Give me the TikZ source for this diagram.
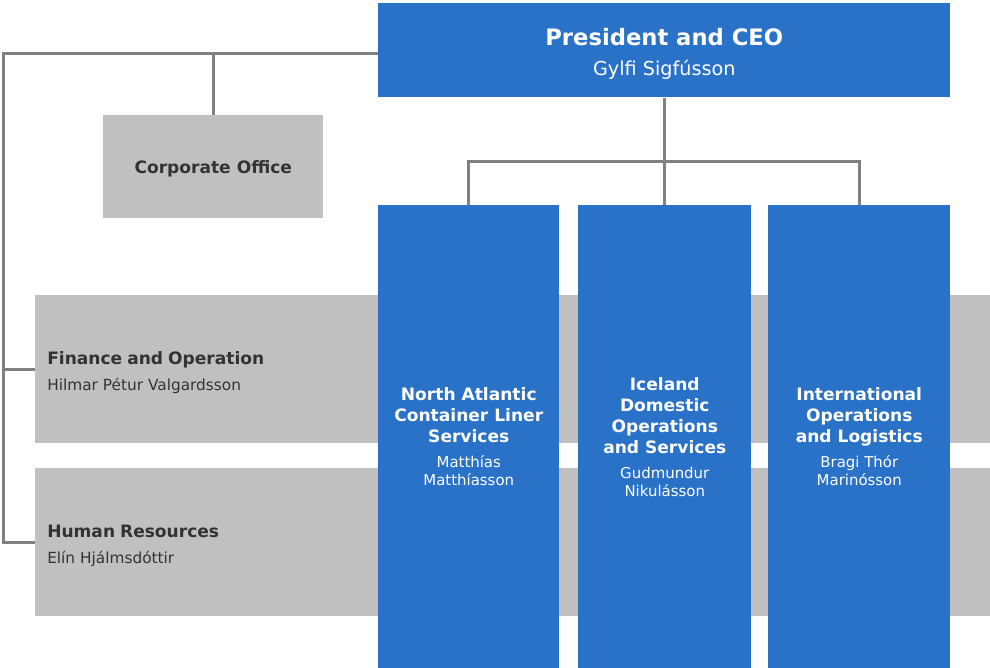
\documentclass[tikz,border=0pt]{standalone}
\usepackage{fontspec}
\setmainfont{DejaVu Sans}

\definecolor{boxblue}{RGB}{42,114,200}
\definecolor{boxgray}{RGB}{192,192,192}
\definecolor{linegray}{RGB}{128,128,128}
\definecolor{textgray}{RGB}{51,51,51}

\newcommand{\ceofont}{\fontsize{17}{20}\selectfont\bfseries}
\newcommand{\ceonamefont}{\fontsize{14.4}{17}\selectfont}
\newcommand{\headfont}{\fontsize{12.8}{15.75}\selectfont\bfseries}
\newcommand{\namefont}{\fontsize{11.2}{13.5}\selectfont}

\begin{document}
\begin{tikzpicture}[x=0.75pt, y=-0.75pt,
    bluebox/.style={fill=boxblue, text=white, inner sep=0pt, align=center, anchor=north west, font=\namefont},
    graybox/.style={fill=boxgray, text=textgray, inner sep=0pt, anchor=north west, font=\namefont},
    link/.style={draw=linegray, line width=2.25pt}]

    % Page frame
    \useasboundingbox[fill=white] (0,0) rectangle (990,668);

    % Draw gray bands and corporate office
    \node[graybox, minimum width=955*0.75pt, minimum height=148*0.75pt, text width=931*0.75pt, align=left, inner xsep=9pt] (fin) at (35,295)
        {{\headfont\rule{0pt}{14.2pt}Finance and Operation}\\[6pt]{\fontsize{11.5}{13.5}\selectfont Hilmar Pétur Valgardsson}};
    \node[graybox, minimum width=955*0.75pt, minimum height=148*0.75pt, text width=931*0.75pt, align=left, inner xsep=9pt] (hr) at (35,468)
        {{\headfont\rule{0pt}{14.2pt}Human Resources}\\[6pt]{\fontsize{11.5}{13.5}\selectfont Elín Hjálmsdóttir}};
    \node[graybox, minimum width=220*0.75pt, minimum height=103*0.75pt, font=\headfont] (office) at (103,115) {\rule{0pt}{12.7pt}Corporate Office};

    % Draw president box
    \node[bluebox, minimum width=572*0.75pt, minimum height=94*0.75pt] (ceo) at (378,3)
        {{\ceofont\rule{0pt}{19pt}President and CEO}\\[9pt]{\ceonamefont Gylfi Sigfússon}};

    % Draw business unit columns
    \node[bluebox, minimum width=181*0.75pt, minimum height=463*0.75pt] (col1) at (378,205)
        {{\headfont North Atlantic}\\[2.25pt]{\headfont Container Liner}\\[2.25pt]{\headfont Services}\\[5.25pt]Matthías\\Matthíasson};
    \node[bluebox, minimum width=173*0.75pt, minimum height=463*0.75pt] (col2) at (578,205)
        {{\headfont Iceland}\\[2.25pt]{\headfont Domestic}\\[2.25pt]{\headfont Operations}\\[2.25pt]{\headfont and Services}\\[5.25pt]Gudmundur\\Nikulásson};
    \node[bluebox, minimum width=182*0.75pt, minimum height=463*0.75pt] (col3) at (768,205)
        {{\headfont International}\\[2.25pt]{\headfont Operations}\\[2.25pt]{\headfont and Logistics}\\[5.25pt]Bragi Thór\\Marinósson};

    % Connectors on the left
    \coordinate (top) at (3,53);
    \draw[link] (top -| ceo.west) -- (top) -- (top |- hr.west) -- (hr.west);
    \draw[link] (fin.west -| top) -- (fin.west);
    \draw[link] (office.north |- top) -- (office.north);

    % Connectors to the columns
    \coordinate (bus) at (664,161);
    \draw[link] (ceo.south) -- (ceo.south |- bus);
    \draw[link] (col1.north) -- (col1.north |- bus) -- (col3.north |- bus) -- (col3.north);
    \draw[link] (col2.north |- bus) -- (col2.north);

\end{tikzpicture}
\end{document}
